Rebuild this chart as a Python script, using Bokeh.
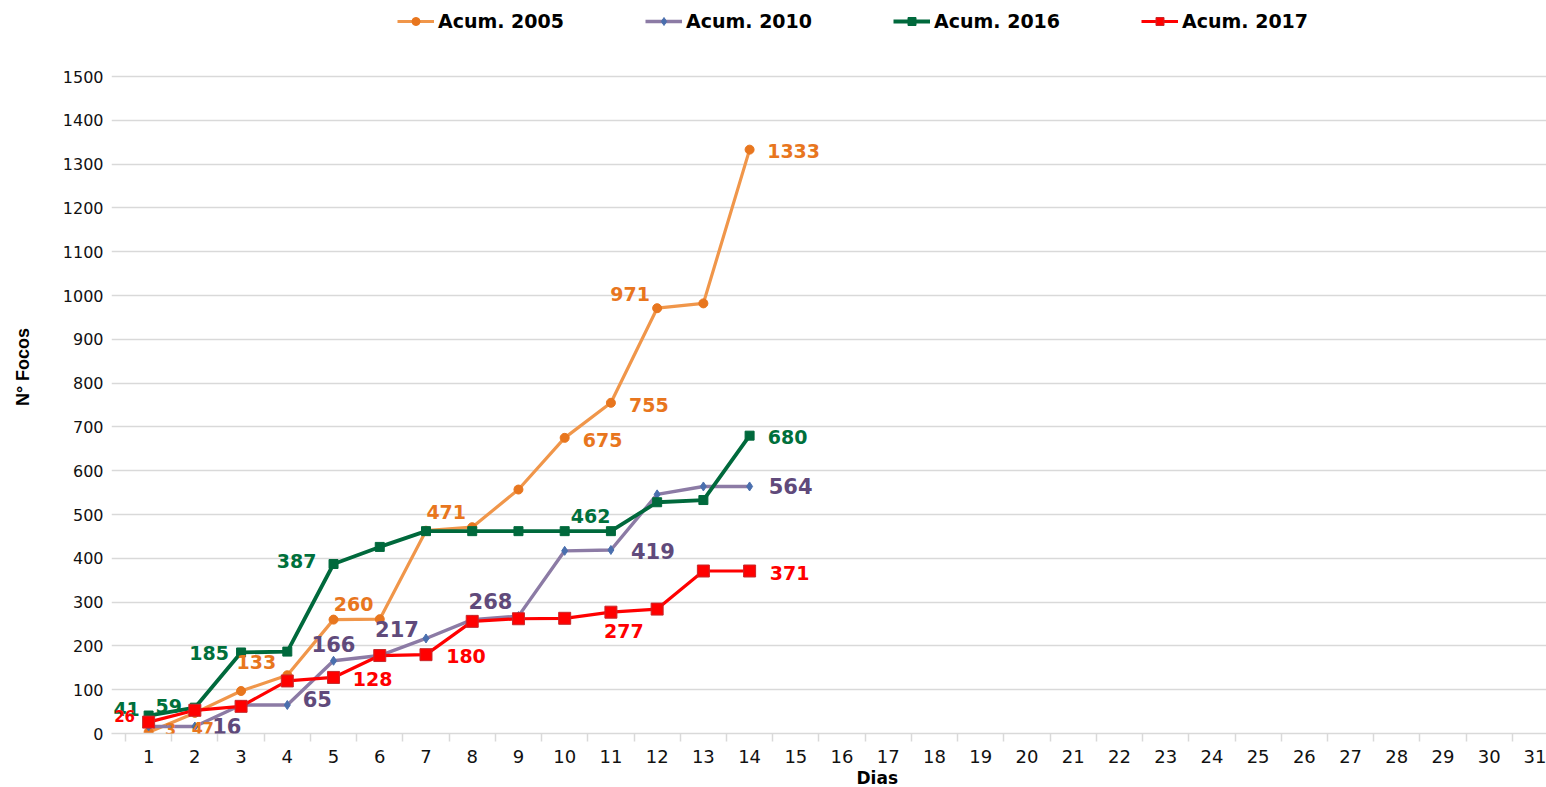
import math
from bokeh.plotting import figure
from bokeh.models import (ColumnDataSource, LabelSet, Legend, LegendItem,
                          FixedTicker, Range1d, Title)
from bokeh.core.properties import value
from bokeh.embed import file_html
from bokeh.resources import INLINE

# ---------------- data ----------------
days = list(range(1, 15))
all_days = list(range(1, 32))
y_ticks = list(range(0, 1501, 100))

series_names = ["Acum. 2005", "Acum. 2010", "Acum. 2016", "Acum. 2017"]
acum_2005 = [3, 47, 97, 133, 260, 261, 463, 471, 557, 675, 755, 971, 982, 1333]
acum_2010 = [16, 16, 65, 65, 166, 178, 217, 260, 268, 417, 419, 546, 564, 564]
acum_2016 = [41, 59, 185, 187, 387, 426, 462, 462, 462, 462, 462, 528, 533, 680]
acum_2017 = [26, 53, 62, 120, 128, 178, 180, 256, 262, 263, 277, 284, 371, 371]

# labelled days (value shown = series value at that day)
labelled_2005 = [1, 2, 4, 5, 8, 10, 11, 12, 14]
labelled_2010 = [2, 4, 5, 7, 9, 11, 14]
labelled_2016 = [1, 2, 3, 5, 10, 14]
labelled_2017 = [1, 5, 7, 11, 14]

# ---------------- styles / label placement (pixels) ----------------
off_2005 = {1: (22, 3), 2: (8, -15), 4: (-31, 13), 5: (20, 16), 8: (-26, 15),
            10: (38, -2), 11: (38, -2), 12: (-27, 14), 14: (44, -1)}
off_2010 = {2: (32, 0), 4: (30, 6), 5: (0, 17), 7: (-29, 9), 9: (-28, 15),
            11: (42, -1), 14: (41, 0)}
off_2016 = {1: (-22, 7), 2: (-26, 2), 3: (-32, -1), 5: (-37, 3), 10: (26, 15),
            14: (38, -1)}
off_2017 = {1: (-24, 6), 5: (39, -2), 7: (40, -1), 11: (13, -19), 14: (40, -2)}
size_override = {("2005", 1): "16px", ("2005", 2): "16px", ("2017", 1): "15px"}

W, H = 1546, 787
PX_PER_DAY = 46.23
FRAME_LEFT = 111
FRAME_BOTTOM = 733          # page y of the value 0
TOP_1500 = 76               # page y of the value 1500
x0 = 0.5 - (125 - FRAME_LEFT) / PX_PER_DAY
x1 = x0 + (W - FRAME_LEFT) / PX_PER_DAY
y_top = 1500 * FRAME_BOTTOM / (FRAME_BOTTOM - TOP_1500)

p = figure(width=W, height=H, output_backend="svg", toolbar_location=None,
           x_range=Range1d(x0, x1), y_range=Range1d(0, y_top),
           min_border_left=FRAME_LEFT, min_border_right=0, min_border_top=0,
           min_border_bottom=H - FRAME_BOTTOM)
p.outline_line_color = None
p.background_fill_color = "white"
p.border_fill_color = "white"

# axes
p.xaxis.ticker = FixedTicker(ticks=all_days, minor_ticks=[d - 0.5 for d in all_days] + [31.5])
p.xaxis.major_tick_line_color = None
p.xaxis.major_tick_out = 0
p.xaxis.minor_tick_out = 8
p.xaxis.minor_tick_in = 0
p.xaxis.minor_tick_line_color = "#d9d9d9"
p.xaxis.minor_tick_line_width = 1.5
p.xaxis.axis_line_color = "#d9d9d9"
p.xaxis.axis_line_width = 1.5
p.xaxis.major_label_standoff = 8
p.xaxis.major_label_text_font = "DejaVu Sans"
p.xaxis.major_label_text_font_size = "18px"
p.xaxis.major_label_text_color = "#111111"

p.yaxis.ticker = FixedTicker(ticks=y_ticks)
p.yaxis.axis_line_color = None
p.yaxis.major_tick_line_color = None
p.yaxis.minor_tick_line_color = None
p.yaxis.major_tick_out = 0
p.yaxis.major_label_standoff = 8
p.yaxis.major_label_text_font = "DejaVu Sans"
p.yaxis.major_label_text_font_size = "16px"
p.yaxis.major_label_text_color = "#111111"
p.yaxis.axis_label = "N° Focos"
p.yaxis.axis_label_standoff = 27
p.yaxis.axis_label_text_font = "Liberation Sans"
p.yaxis.axis_label_text_font_style = "bold"
p.yaxis.axis_label_text_font_size = "18px"
p.yaxis.axis_label_text_color = "#000000"

p.xgrid.visible = False
p.ygrid.ticker = FixedTicker(ticks=y_ticks)
p.ygrid.grid_line_color = "#d9d9d9"
p.ygrid.grid_line_width = 1.5

series = [
    ("2005", acum_2005, labelled_2005, off_2005, dict(line="#F0964A", marker="circle", fill="#E8761E", mline="#E8761E", size=9, lw=3.2, lab="#E8761E", fs="19px")),
    ("2010", acum_2010, labelled_2010, off_2010, dict(line="#8C7BA5", marker="diamond", fill="#4A6FAE", mline="#4A6FAE", size=9, lw=3.4, lab="#604A7B", fs="21px")),
    ("2016", acum_2016, labelled_2016, off_2016, dict(line="#00693C", marker="square", fill="#00693C", mline="#00693C", size=9, lw=3.8, lab="#00703C", fs="19px")),
    ("2017", acum_2017, labelled_2017, off_2017, dict(line="#FF0000", marker="square", fill="#FF0000", mline="#C8282B", size=12, lw=3.2, lab="#FF0000", fs="19px")),
]

items = []
for (yr, vals, labelled, offs, st), name in zip(series, series_names):
    src = ColumnDataSource(dict(x=days, y=vals))
    r1 = p.line("x", "y", source=src, line_color=st["line"], line_width=st["lw"])
    r2 = p.scatter("x", "y", source=src, marker=st["marker"], size=st["size"],
                   fill_color=st["fill"], line_color=st["mline"], line_width=1)
    items.append(LegendItem(label=name, renderers=[r1, r2]))
    ly = [vals[d - 1] for d in labelled]
    lsrc = ColumnDataSource(dict(
        x=list(labelled), y=ly, t=[str(v) for v in ly],
        dx=[offs[d][0] for d in labelled], dy=[offs[d][1] for d in labelled],
        fs=[size_override.get((yr, d), st["fs"]) for d in labelled]))
    p.add_layout(LabelSet(x="x", y="y", text="t", source=lsrc, x_offset="dx", y_offset="dy",
                          text_align="center", text_baseline="middle",
                          text_font=value("DejaVu Sans"), text_font_style="bold",
                          text_font_size="fs", text_color=st["lab"]))

legend = Legend(items=items, orientation="horizontal",
                location=(397 - FRAME_LEFT, FRAME_BOTTOM - 32),
                padding=0, margin=0, spacing=81, glyph_width=37, glyph_height=20,
                label_standoff=4, border_line_color=None, background_fill_alpha=0,
                label_text_font="DejaVu Sans", label_text_font_style="bold",
                label_text_font_size="19px", label_text_color="#000000")
p.add_layout(legend, "center")

p.add_layout(Title(text="Dias", align="left", offset=856 - FRAME_LEFT, standoff=0,
                   text_font="DejaVu Sans", text_font_style="bold",
                   text_font_size="17px", text_color="#000000"), "below")

open("out.html", "w").write(file_html(p, INLINE))
